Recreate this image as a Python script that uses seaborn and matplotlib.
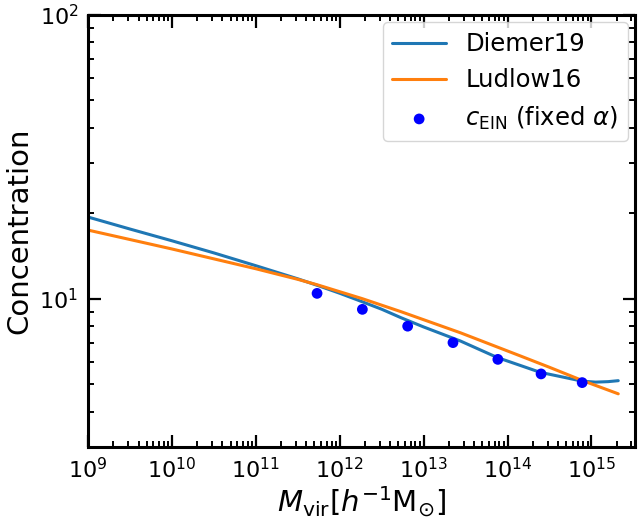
import numpy as np
import pandas as pd
import matplotlib
matplotlib.use("Agg")
import matplotlib.pyplot as plt
from matplotlib.ticker import FixedLocator, NullFormatter, LogFormatterSciNotation
import seaborn as sns

# Concentration-mass relations (log10 of virial mass in h^-1 Msun)
diemer_logm = [9.0, 9.5, 10.0, 10.5, 11.0, 11.5, 11.73, 12.0, 12.27, 12.5,
               12.73, 13.0, 13.44, 13.88, 14.15, 14.39, 14.65, 14.89, 15.05,
               15.2, 15.32]
diemer_c = [19.4, 17.6, 16.0, 14.5, 13.07, 11.75, 11.15, 10.45, 9.75, 9.18,
            8.57, 7.95, 7.09, 6.2, 5.82, 5.5, 5.3, 5.12, 5.08,
            5.1, 5.14]

ludlow_logm = [9.0, 10.0, 11.0, 11.5, 11.73, 12.27, 12.73, 13.44,
               14.155, 14.5, 14.89, 15.32]
ludlow_c = [17.45, 14.97, 12.75, 11.7, 11.2, 10.0, 9.0, 7.58,
            6.28, 5.73, 5.15, 4.62]

# Einasto concentrations measured with fixed alpha
ein_logm = [11.73, 12.27, 12.81, 13.35, 13.885, 14.40, 14.89]
ein_c = [10.44, 9.17, 8.0, 7.0, 6.11, 5.43, 5.06]

diemer = pd.DataFrame({"M": 10.0 ** np.array(diemer_logm), "c": diemer_c})
ludlow = pd.DataFrame({"M": 10.0 ** np.array(ludlow_logm), "c": ludlow_c})
ein = pd.DataFrame({"M": 10.0 ** np.array(ein_logm), "c": ein_c})

sns.set_style("ticks")
plt.rcParams["font.family"] = ["DejaVu Sans"]
plt.rcParams["mathtext.fontset"] = "dejavusans"
for key in ["text.color", "axes.labelcolor", "xtick.color", "ytick.color",
            "axes.edgecolor"]:
    plt.rcParams[key] = "black"

fig = plt.figure(figsize=(6.43, 5.19), dpi=100)
ax = fig.add_axes([0.1369, 0.1387, 0.8507, 0.8324])

sns.lineplot(data=diemer, x="M", y="c", ax=ax, color="#1f77b4", lw=2.2,
             label="Diemer19", sort=False)
sns.lineplot(data=ludlow, x="M", y="c", ax=ax, color="#ff7f0e", lw=2.2,
             label="Ludlow16", sort=False)
sns.scatterplot(data=ein, x="M", y="c", ax=ax, color="blue", s=60,
                edgecolor="none", label=r"$c_{\rm EIN}$ (fixed $\alpha$)",
                zorder=3)

ax.set_xscale("log")
ax.set_yscale("log")
xmin, xmax = 1e9, 10 ** 15.52
ymin, ymax = 3.0, 100.0

# major ticks at each decade, minor ticks at 2..9 times each decade (in range only)
xmaj = [10.0 ** k for k in range(9, 16)]
xmin_t = [m * 10.0 ** k for k in range(9, 16) for m in range(2, 10)
          if m * 10.0 ** k <= xmax]
ymaj = [10.0, 100.0]
ymin_t = [m * 10.0 ** k for k in range(0, 2) for m in range(2, 10)
          if ymin <= m * 10.0 ** k <= ymax]
ax.xaxis.set_major_locator(FixedLocator(xmaj))
ax.xaxis.set_minor_locator(FixedLocator(xmin_t))
ax.yaxis.set_major_locator(FixedLocator(ymaj))
ax.yaxis.set_minor_locator(FixedLocator(ymin_t))
ax.xaxis.set_major_formatter(LogFormatterSciNotation())
ax.yaxis.set_major_formatter(LogFormatterSciNotation())
ax.xaxis.set_minor_formatter(NullFormatter())
ax.yaxis.set_minor_formatter(NullFormatter())
ax.set_xlim(xmin, xmax)
ax.set_ylim(ymin, ymax)

ax.tick_params(which="both", direction="in", top=True, right=True,
               colors="black")
ax.tick_params(which="major", length=9, width=1.6, labelsize=16, pad=7)
ax.tick_params(which="minor", length=4.5, width=1.4)
for sp in ax.spines.values():
    sp.set_linewidth(2.2)
    sp.set_color("black")

ax.set_xlabel(r"$M_{\rm vir}[h^{-1}{\rm M}_{\odot}]$", fontsize=21, labelpad=2)
ax.set_ylabel("Concentration", fontsize=21, labelpad=4)

ax.legend(loc="upper right", fontsize=17.5, frameon=True, fancybox=True,
          framealpha=0.8, edgecolor="#cccccc", handlelength=2.2,
          borderaxespad=0.3)

fig.savefig("out.png", dpi=100)
